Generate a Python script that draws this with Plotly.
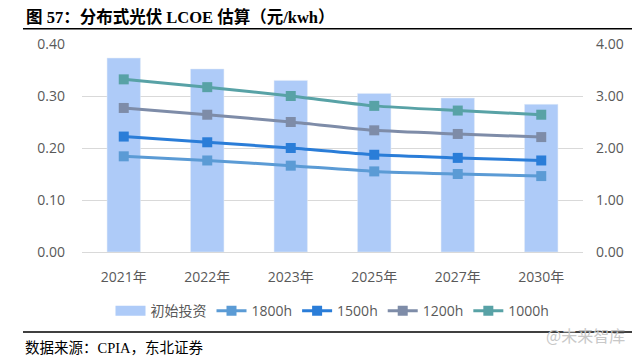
import plotly.graph_objects as go

categories = ["2021年", "2022年", "2023年", "2025年", "2027年", "2030年"]
invest = [3.73, 3.52, 3.30, 3.05, 2.96, 2.84]
h1800 = [0.184, 0.176, 0.166, 0.155, 0.150, 0.146]
h1500 = [0.222, 0.211, 0.200, 0.187, 0.181, 0.176]
h1200 = [0.277, 0.264, 0.250, 0.234, 0.227, 0.221]
h1000 = [0.332, 0.317, 0.300, 0.281, 0.272, 0.264]

series = [
    ("1800h", h1800, "#5B9BD5"),
    ("1500h", h1500, "#2A7DD8"),
    ("1200h", h1200, "#7E8CA8"),
    ("1000h", h1000, "#58A2A6"),
]
bar_color = "#AECBF8"

fig = go.Figure()
# bars on primary axis (drawn below), shown on the right side
fig.add_trace(go.Bar(x=categories, y=invest, name="初始投资", marker_color=bar_color,
                     width=0.4, yaxis="y", showlegend=False))
# legend entry for bars as a wide rectangle
fig.add_trace(go.Scatter(x=[None], y=[None], name="初始投资", mode="lines",
                         line=dict(color=bar_color, width=10), yaxis="y2"))
for name, vals, col in series:
    fig.add_trace(go.Scatter(x=categories, y=vals, name=name, mode="lines+markers",
                             line=dict(color=col, width=3, shape="spline", smoothing=0.6),
                             marker=dict(symbol="square", size=10, color=col), yaxis="y2"))

fnt = "Open Sans, Noto Sans CJK SC, sans-serif"
tickfont = dict(family=fnt, size=14, color="#595959")
fig.update_layout(
    width=640, height=360,
    margin=dict(l=74, r=65, t=36, b=116),
    paper_bgcolor="white", plot_bgcolor="white",
    xaxis=dict(tickfont=tickfont, showline=True, linecolor="#D9D9D9", ticks="", showgrid=False,
               automargin=False, ticklabelstandoff=12),
    yaxis=dict(range=[0, 4], dtick=1, tickformat=".2f", tickfont=tickfont, side="right",
               gridcolor="#D9D9D9", gridwidth=1, zeroline=False, ticks="", showline=False,
               automargin=False, ticklabelstandoff=12),
    yaxis2=dict(range=[0, 0.4], dtick=0.1, tickformat=".2f", tickfont=tickfont, overlaying="y",
                side="left", showgrid=False, zeroline=False, ticks="", showline=False,
                automargin=False, ticklabelstandoff=16),
    legend=dict(orientation="h", x=0.5, xanchor="center", y=-0.284, yanchor="middle",
                font=dict(family=fnt, size=14, color="#595959"),
                itemwidth=30, tracegroupgap=0),
    showlegend=True,
)
fig.add_annotation(xref="paper", yref="paper", x=-0.1158, y=1.13, xanchor="left", yanchor="middle",
                   text="<b>图 57：分布式光伏 LCOE 估算（元/kwh）</b>", showarrow=False,
                   font=dict(family="Liberation Serif, Noto Sans CJK SC, serif", size=16.5, color="black"))
fig.add_shape(type="line", xref="paper", yref="paper", x0=-0.1178, x1=1.12, y0=1.0736, y1=1.0736,
              line=dict(color="black", width=1.5))
fig.add_shape(type="line", xref="paper", yref="paper", x0=-0.1178, x1=1.12, y0=-0.3846, y1=-0.3846,
              line=dict(color="black", width=1.5))
fig.add_annotation(xref="paper", yref="paper", x=-0.1178, y=-0.4615, xanchor="left", yanchor="middle",
                   text="数据来源：CPIA，东北证券", showarrow=False,
                   font=dict(family="Liberation Serif, Noto Sans CJK SC, serif", size=14.5, color="black"))
fig.add_annotation(xref="paper", yref="paper", x=1.0878, y=-0.399, xanchor="right", yanchor="middle",
                   text="@未来智库", showarrow=False,
                   font=dict(family="Noto Sans CJK SC, sans-serif", size=16, color="#C8C8C8"))
fig.write_html("out.html")
